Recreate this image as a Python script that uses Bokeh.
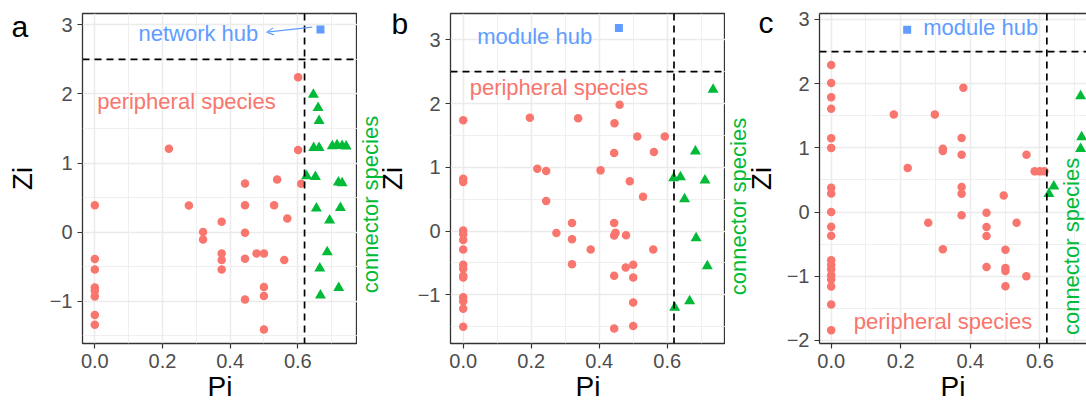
import math
from bokeh.plotting import figure
from bokeh.layouts import row
from bokeh.models import Range1d, FixedTicker, Label, Arrow, OpenHead, Span, LinearAxis
from bokeh.embed import file_html
from bokeh.resources import INLINE

# ---------------- data ----------------
# panel a
a_per_x = [0, 0, 0, 0, 0, 0, 0, 0, 0.219, 0.601, 0.601, 0.444, 0.539, 0.61, 0.278, 0.444, 0.530,
           0.569, 0.375, 0.32, 0.32, 0.444, 0.375, 0.375, 0.375, 0.444, 0.478, 0.50, 0.56, 0.50, 0.50,
           0.444, 0.50]
a_per_y = [0.39, -0.39, -0.54, -0.80, -0.85, -0.93, -1.20, -1.34, 1.205, 2.243, 1.187, 0.705, 0.762,
           0.70, 0.386, 0.39, 0.39, 0.198, 0.149, 0.0, -0.106, -0.01, -0.309, -0.405, -0.54, -0.386,
           -0.309, -0.309, -0.405, -0.796, -0.926, -0.974, -1.408]
a_con_x = [0.646, 0.66, 0.663, 0.647, 0.663, 0.702, 0.716, 0.731, 0.743, 0.626, 0.652, 0.72, 0.731,
           0.655, 0.726, 0.694, 0.687, 0.665, 0.667, 0.721]
a_con_y = [1.99, 1.80, 1.61, 1.22, 1.22, 1.245, 1.26, 1.25, 1.24, 0.81, 0.80, 0.72, 0.71, 0.343,
           0.352, 0.169, -0.289, -0.525, -0.916, -0.806]
a_hub_x = [0.667]
a_hub_y = [2.933]

# panel b
b_per_x = [0] * 15 + [0.196, 0.218, 0.244, 0.244, 0.274, 0.46, 0.338, 0.445, 0.512, 0.593, 0.444,
                      0.561, 0.404, 0.49, 0.529, 0.32, 0.444, 0.32, 0.448, 0.444, 0.479, 0.375,
                      0.559, 0.32, 0.478, 0.5, 0.444, 0.5, 0.5, 0.444, 0.5]
b_per_y = [1.74, 0.82, 0.77, 0.01, -0.05, -0.14, -0.29, -0.53, -0.59, -0.70, -0.73, -1.04, -1.10,
           -1.22, -1.50,
           1.777, 0.979, 0.941, 0.47, -0.03, 1.98, 1.77, 1.69, 1.485, 1.485, 1.224, 1.24, 0.952,
           0.78, 0.54, 0.126, 0.126, -0.13, -0.026, -0.07, -0.067, -0.29, -0.29, -0.52, -0.57,
           -0.53, -0.70, -0.73, -1.12, -1.53, -1.49]
b_con_x = [0.735, 0.683, 0.619, 0.639, 0.711, 0.651, 0.685, 0.718, 0.666, 0.622]
b_con_y = [2.218, 1.25, 0.831, 0.847, 0.795, 0.5, -0.11, -0.55, -1.10, -1.20]
b_hub_x = [0.458]
b_hub_y = [3.184]

# panel c
c_per_x = [0] * 19 + [0.18, 0.22, 0.38, 0.298, 0.375, 0.321, 0.321, 0.375, 0.5615, 0.585, 0.60,
                      0.613, 0.375, 0.375, 0.496, 0.375, 0.279, 0.4465, 0.4465, 0.4465, 0.533,
                      0.321, 0.501, 0.4465, 0.501, 0.501, 0.561, 0.501]
c_per_y = [2.29, 2.01, 1.79, 1.61, 1.15, 1.0, 0.38, 0.29, 0.0, -0.23, -0.37, -0.75, -0.82, -0.89,
           -0.98, -1.05, -1.16, -1.44, -1.84,
           1.52, 0.685, 1.936, 1.52, 1.153, 0.986, 0.95, 0.893, 0.893, 0.634, 0.634, 0.634, 0.39,
           0.285, 0.26, -0.05, -0.166, -0.01, -0.234, -0.374, -0.166, -0.58, -0.587, -0.857,
           -0.872, -0.919, -1.0, -1.157]
c_con_x = [0.717, 0.72, 0.717, 0.64, 0.626]
c_con_y = [1.807, 1.168, 0.986, 0.40, 0.285]
c_hub_x = [0.2185]
c_hub_y = [2.84]

x_ticks = [0, 0.2, 0.4, 0.6]
x_tick_labels = ["0.0", "0.2", "0.4", "0.6"]
x_minor = [0.1, 0.3, 0.5, 0.7]
y_ticks_ab = [-1, 0, 1, 2, 3]
y_tick_labels_ab = ["\u22121", "0", "1", "2", "3"]
y_ticks_c = [-2, -1, 0, 1, 2, 3]
y_tick_labels_c = ["\u22122", "\u22121", "0", "1", "2", "3"]
y_minor = [-1.5, -0.5, 0.5, 1.5, 2.5, 3.5]

pi_threshold = 0.62
zi_threshold = 2.5

RED = "#F8766D"
GREEN = "#00BA38"
BLUE = "#619CFF"
FONT = "Liberation Sans"
H = 408
TOP = 13       # frame top (px)
BOTTOM = 65    # space below frame (px)


def make_panel(width, mbl, mbr, xr, yr, yt, ytl, px, py, cx, cy, hx, hy, outline=True):
    p = figure(width=width, height=H, x_range=Range1d(*xr), y_range=Range1d(*yr),
               output_backend="svg", toolbar_location=None,
               min_border_left=mbl, min_border_right=mbr, min_border_top=TOP,
               min_border_bottom=BOTTOM,
               background_fill_color="white", border_fill_color="white")
    p.outline_line_color = "#333333" if outline else None
    p.outline_line_width = 1.3
    p.xaxis.ticker = FixedTicker(ticks=x_ticks, minor_ticks=x_minor)
    p.yaxis.ticker = FixedTicker(ticks=yt, minor_ticks=y_minor)
    p.xaxis.major_label_overrides = {t: l for t, l in zip(x_ticks, x_tick_labels)}
    p.yaxis.major_label_overrides = {t: l for t, l in zip(yt, ytl)}
    for ax in (p.xaxis, p.yaxis):
        ax.axis_line_color = "#333333" if not outline else None
        ax.axis_line_width = 1.3
        ax.major_tick_line_color = "#333333"
        ax.major_tick_line_width = 1.2
        ax.major_tick_out = 5
        ax.major_tick_in = 0
        ax.minor_tick_line_color = None
        ax.major_label_text_font = FONT
        ax.major_label_text_font_size = "20px"
        ax.major_label_text_color = "#4D4D4D"
        ax.major_label_standoff = 5
        ax.axis_label_text_font = FONT
        ax.axis_label_text_font_size = "28px"
        ax.axis_label_text_font_style = "normal"
        ax.axis_label_text_color = "black"
        ax.axis_label_standoff = 0
    p.xaxis.axis_label = "Pi"
    for g in (p.xgrid, p.ygrid):
        g.grid_line_color = "#EBEBEB"
        g.grid_line_width = 1.5
        g.minor_grid_line_color = "#EBEBEB"
        g.minor_grid_line_width = 0.8
    p.scatter(px, py, marker="circle", size=8.5, fill_color=RED, line_color=None)
    p.scatter(cx, cy, marker="triangle", size=11, fill_color=GREEN, line_color=None)
    p.scatter(hx, hy, marker="square", size=8, fill_color=BLUE, line_color=None)
    p.add_layout(Span(location=zi_threshold, dimension="width", line_color="black",
                      line_width=1.7, line_dash="7 5"))
    p.add_layout(Span(location=pi_threshold, dimension="height", line_color="black",
                      line_width=1.7, line_dash="7 5"))
    if not outline:
        top = LinearAxis(ticker=FixedTicker(ticks=[]), axis_line_color="#333333",
                         axis_line_width=1.3, major_tick_line_color=None,
                         minor_tick_line_color=None, major_label_text_font_size="0px")
        p.add_layout(top, "above")
    return p


def lab(p, x, y, text, color, size="22px", align="left", angle=0.0):
    p.add_layout(Label(x=x, y=y, text=text, text_color=color, text_font=FONT,
                       text_font_size=size, text_align=align, text_baseline="middle",
                       angle=angle))


def gutter(width):
    # frames in a row are aligned with the panels' frames (TOP .. H-BOTTOM),
    # so the y range maps page pixels measured from the bottom of the page
    g = figure(width=width, height=H, x_range=Range1d(0, width),
               y_range=Range1d(BOTTOM, H - TOP),
               output_backend="svg", toolbar_location=None,
               min_border_left=0, min_border_right=0, min_border_top=0, min_border_bottom=0,
               x_axis_type=None, y_axis_type=None,
               background_fill_color="white", border_fill_color="white")
    g.outline_line_color = None
    return g


# left gutter: panel letter "a" and y title of panel a (page x 0..45)
g1 = gutter(45)
lab(g1, 11, H - 26, "a", "black", size="30px")
lab(g1, 22, H - 178, "Zi", "black", size="28px", align="center", angle=math.pi / 2)

# panel a (page x 45..357)
pa = make_panel(312, 37, 0, (-0.0364, 0.7765), (-1.612, 3.164), y_ticks_ab, y_tick_labels_ab,
                a_per_x, a_per_y, a_con_x, a_con_y, a_hub_x, a_hub_y)
pa.add_layout(Arrow(x_start=0.643, y_start=2.967, x_end=0.508, y_end=2.894,
                    line_color=BLUE, line_width=1.1,
                    end=OpenHead(size=7, line_color=BLUE, line_width=1.1)))
lab(pa, 0.129, 2.876, "network hub", BLUE)
lab(pa, 0.007, 1.887, "peripheral species", RED)

# gutter between a and b (page x 357..414)
g2 = gutter(57)
lab(g2, 13, H - 204, "connector species", GREEN, align="center", angle=math.pi / 2)
lab(g2, 34, H - 22.5, "b", "black", size="30px")
lab(g2, 34.5, H - 178, "Zi", "black", size="28px", align="center", angle=math.pi / 2)

# panel b (page x 414..725)
pb = make_panel(311, 36, 0, (-0.0374, 0.7715), (-1.764, 3.413), y_ticks_ab, y_tick_labels_ab,
                b_per_x, b_per_y, b_con_x, b_con_y, b_hub_x, b_hub_y)
lab(pb, 0.041, 3.060, "module hub", BLUE)
lab(pb, 0.019, 2.249, "peripheral species", RED)

# gutter between b and c (page x 725..776)
g3 = gutter(51)
lab(g3, 13, H - 206, "connector species", GREEN, align="center", angle=math.pi / 2)
lab(g3, 33, H - 21.5, "c", "black", size="30px")
lab(g3, 36, H - 178, "Zi", "black", size="28px", align="center", angle=math.pi / 2)

# panel c (page x 776..1086)
pc = make_panel(310, 43, 0, (-0.0336, 0.734), (-2.047, 3.093), y_ticks_c, y_tick_labels_c,
                c_per_x, c_per_y, c_con_x, c_con_y, c_hub_x, c_hub_y, outline=False)
lab(pc, 0.2645, 2.872, "module hub", BLUE)
lab(pc, 0.065, -1.698, "peripheral species", RED)
lab(pc, 0.691, -1.916, "connector species", GREEN, align="left", angle=math.pi / 2)

layout = row(g1, pa, g2, pb, g3, pc)
open("out.html", "w").write(file_html(layout, INLINE))
